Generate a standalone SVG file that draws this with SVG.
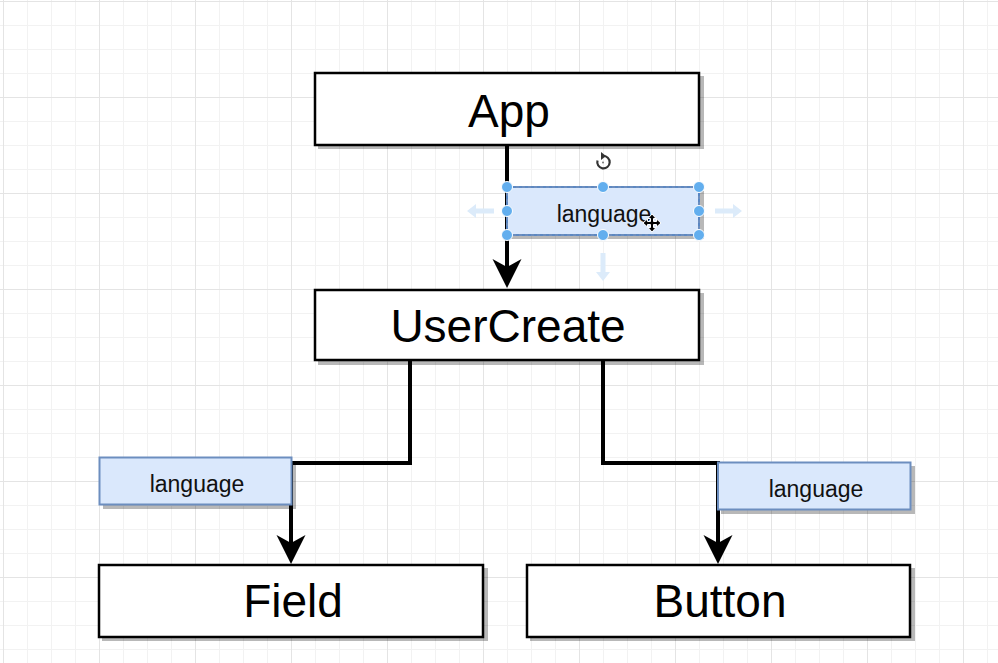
<svg xmlns="http://www.w3.org/2000/svg" width="998" height="663" viewBox="0 0 998 663">
  <defs>
    <pattern id="grid" patternUnits="userSpaceOnUse" x="3" y="1" width="96" height="96">
      <path d="M24.5 0V96M48.5 0V96M72.5 0V96M0 24.5H96M0 48.5H96M0 72.5H96" stroke="#f2f2f2" stroke-width="1" fill="none"/>
      <path d="M0.5 0V96M0 0.5H96" stroke="#e4e4e4" stroke-width="1" fill="none"/>
    </pattern>
    <marker id="arrow" markerUnits="userSpaceOnUse" viewBox="0 0 30 30" refX="8" refY="15" markerWidth="30" markerHeight="30" orient="auto" overflow="visible">
      <path d="M29 15 L0 0.5 L8 15 L0 29.5 Z" fill="#000"/>
    </marker>
  </defs>
  <style>
    .node { fill: #ffffff; stroke: #000000; stroke-width: 2.5; }
    .shadow { fill: #000; opacity: 0.28; }
    .lbl { fill: #dae8fc; stroke: #6c8ebf; stroke-width: 2; }
    .big { font-family: "Liberation Sans", Arial, sans-serif; font-size: 46px; fill: #000; text-anchor: middle; }
    .small { font-family: "Liberation Sans", Arial, sans-serif; font-size: 23px; fill: #111; text-anchor: middle; }
    .edge { fill: none; stroke: #000; stroke-width: 4; }
    .handle { fill: #62aeee; stroke: #ffffff; stroke-width: 1; }
    .hint { fill: #dcebfa; }
  </style>
  <rect x="0" y="0" width="998" height="663" fill="#ffffff"/>
  <rect x="0" y="0" width="998" height="663" fill="url(#grid)"/>

  <g id="connectors">
    <path class="edge" d="M507 146 V267" marker-end="url(#arrow)"/>
    <path class="edge" d="M410 361 V463 H291 V543" marker-end="url(#arrow)"/>
    <path class="edge" d="M603 361 V463 H718 V543" marker-end="url(#arrow)"/>
  </g>

  <g id="node-app">
    <rect class="shadow" x="318" y="76" width="386" height="73"/>
    <rect class="node" x="315" y="73" width="384" height="72"/>
    <text class="big" x="509" y="127">App</text>
  </g>

  <g id="node-usercreate">
    <rect class="shadow" x="318" y="293" width="386" height="72"/>
    <rect class="node" x="315" y="290" width="384" height="70"/>
    <text class="big" x="508" y="342">UserCreate</text>
  </g>

  <g id="node-field">
    <rect class="shadow" x="102" y="568" width="386" height="73"/>
    <rect class="node" x="99" y="565" width="384" height="72"/>
    <text class="big" x="293" y="617">Field</text>
  </g>

  <g id="node-button">
    <rect class="shadow" x="530" y="568" width="385" height="73"/>
    <rect class="node" x="527" y="565" width="383" height="72"/>
    <text class="big" x="720" y="617">Button</text>
  </g>

  <g id="label-left">
    <rect class="shadow" x="103" y="461" width="193" height="48"/>
    <rect class="lbl" x="99.5" y="457.5" width="192" height="47"/>
    <text class="small" x="197" y="492">language</text>
  </g>

  <g id="label-right">
    <rect class="shadow" x="721" y="466" width="194" height="48"/>
    <rect class="lbl" x="718" y="462.5" width="192.5" height="47"/>
    <text class="small" x="816" y="497">language</text>
  </g>

  <g id="label-top">
    <rect class="shadow" x="511" y="191" width="193" height="48"/>
    <rect class="lbl" x="507" y="187" width="192" height="48"/>
    <rect x="507" y="187" width="192" height="48" fill="none" stroke="#4f82c4" stroke-width="1.2" stroke-dasharray="3 3"/>
    <text class="small" x="604" y="222">language</text>
  </g>

  <g id="selection-handles">
    <circle class="handle" cx="507" cy="187" r="5.5"/>
    <circle class="handle" cx="603" cy="187" r="5.5"/>
    <circle class="handle" cx="699" cy="187" r="5.5"/>
    <circle class="handle" cx="507" cy="211" r="5.5"/>
    <circle class="handle" cx="699" cy="211" r="5.5"/>
    <circle class="handle" cx="507" cy="235" r="5.5"/>
    <circle class="handle" cx="603" cy="235" r="5.5"/>
    <circle class="handle" cx="699" cy="235" r="5.5"/>
    <path class="hint" d="M467 211 L476 204 V208.5 H494 V213.5 H476 V218 Z"/>
    <path class="hint" d="M742 211 L733 204 V208.5 H715 V213.5 H733 V218 Z"/>
    <path class="hint" d="M603 281 L596 272 H600.5 V253 H605.5 V272 H610 Z"/>
    <path d="M597.5 160.5 A6.2 6.2 0 1 0 603 156" fill="none" stroke="#333" stroke-width="2.2"/>
    <path d="M601 152 L606 156 L601 160 Z" fill="#333"/>
    <circle cx="603" cy="162.5" r="1" fill="#777"/>
  </g>

  <g id="cursor">
    <path d="M652 214 L656 218.5 H653.5 V221.5 H656.5 V219 L661 223 L656.5 227 V224.5 H653.5 V227.5 H656 L652 232 L648 227.5 H650.5 V224.5 H647.5 V227 L643 223 L647.5 219 V221.5 H650.5 V218.5 H648 Z" fill="#000" stroke="#fff" stroke-width="1"/>
  </g>
</svg>
